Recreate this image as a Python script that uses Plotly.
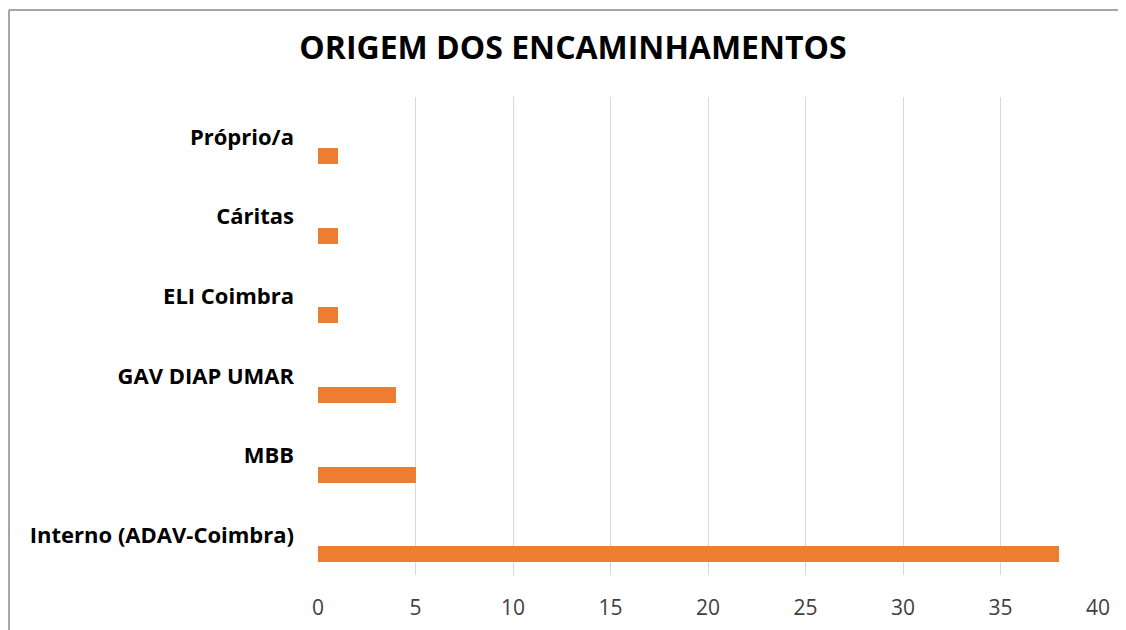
import plotly.graph_objects as go

categories = ["Interno (ADAV-Coimbra)", "MBB", "GAV DIAP UMAR", "ELI Coimbra", "Cáritas", "Próprio/a"]
values = [38, 5, 4, 1, 1, 1]
x_ticks = [0, 5, 10, 15, 20, 25, 30, 35, 40]

# page is offset by the 8px body margin
W, H = 1118, 622
L, R, T, B = 310, 28, 89, 55
pw, ph = W - L - R, H - T - B

fig = go.Figure()
fig.add_trace(go.Bar(
    y=categories, x=values, orientation="h",
    marker=dict(color="#ED7D31", line=dict(width=0)),
    width=0.2, offset=-0.34,
    hoverinfo="x+y",
))

fig.update_layout(
    width=W, height=H,
    margin=dict(l=L, r=R, t=T, b=B, autoexpand=False),
    paper_bgcolor="white", plot_bgcolor="white",
    showlegend=False,
    title=dict(
        text="<b>ORIGEM DOS ENCAMINHAMENTOS</b>",
        font=dict(family="Open Sans", size=32, color="#000000"),
        x=565 / W, xanchor="center", xref="container",
        y=1 - 40 / H, yanchor="middle", yref="container",
    ),
    xaxis=dict(
        range=[0, 40], tickvals=x_ticks, ticktext=[str(v) for v in x_ticks],
        showgrid=True, gridcolor="#D9D9D9", gridwidth=1,
        zeroline=False, showline=False, ticks="",
        tickfont=dict(family="Open Sans", size=21, color="#404040"),
        ticklabelstandoff=18,
    ),
    yaxis=dict(
        type="category", categoryorder="array", categoryarray=categories,
        range=[-0.5, 5.5],
        showgrid=False, zeroline=False, showline=False, ticks="",
        tickfont=dict(family="Open Sans", size=22, color="#000000", weight="bold"),
        ticklabelstandoff=23,
    ),
    bargap=0,
)

# outer chart border (only the top and left edges are visible)
top_y = (H - B - 2) / ph
left_x = (1 - L) / pw
fig.add_shape(type="line", xref="paper", yref="paper",
              x0=left_x, x1=(W - L) / pw, y0=top_y, y1=top_y,
              line=dict(color="#A6A6A6", width=2), layer="below")
fig.add_shape(type="line", xref="paper", yref="paper",
              x0=left_x, x1=left_x, y0=-B / ph, y1=top_y,
              line=dict(color="#A6A6A6", width=2), layer="below")

fig.write_html("out.html")
